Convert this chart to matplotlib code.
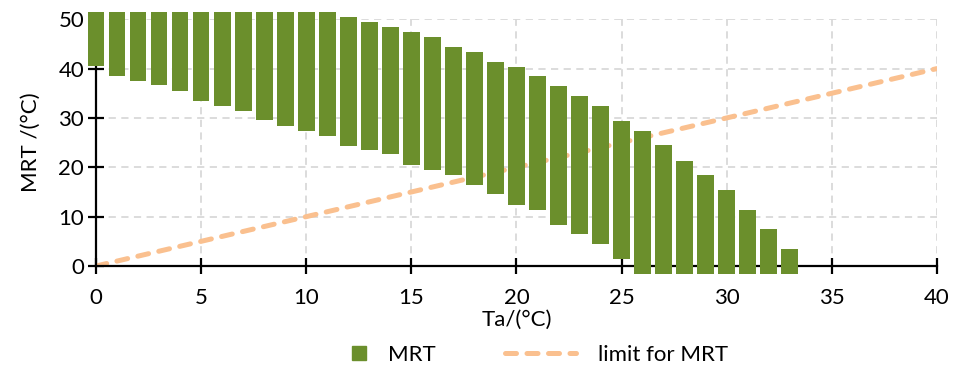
import numpy as np
import matplotlib.pyplot as plt
from matplotlib.lines import Line2D
from matplotlib.patches import Patch, Rectangle
from matplotlib.legend_handler import HandlerPatch

plt.rcParams['font.family'] = ['Lato', 'DejaVu Sans']

# Air temperature steps and the MRT range (lower / upper bound) for each
ta = list(range(0, 34))
mrt_low = [40.5, 38.5, 37.4, 36.6, 35.5, 33.5, 32.4, 31.5, 29.5, 28.4,
           27.4, 26.4, 24.4, 23.6, 22.6, 20.5, 19.5, 18.5, 16.5, 14.5,
           12.4, 11.4, 8.4, 6.4, 4.5, 1.5, -1.6, -1.6, -1.6, -1.6,
           -1.6, -1.6, -1.6, -1.6]
mrt_high = [51.5, 51.5, 51.5, 51.5, 51.5, 51.5, 51.5, 51.5, 51.5, 51.5,
            51.5, 51.5, 50.5, 49.5, 48.4, 47.4, 46.4, 44.4, 43.4, 41.4,
            40.3, 38.5, 36.5, 34.5, 32.4, 29.4, 27.4, 24.5, 21.3, 18.4,
            15.4, 11.4, 7.5, 3.4]

# Limit line MRT = Ta
limit_x = [0, 40]
limit_y = [0, 40]

bar_color = '#6B8F2C'
line_color = '#FAC08F'
dash_style = dict(color=line_color, linewidth=3.6, dashes=(2.2, 2.1),
                  dash_capstyle='round')
FS = 16

fig = plt.figure(figsize=(9.55, 3.7), dpi=100)
ax = fig.add_axes([0.1005, 0.281, 0.8805, 0.667])

ax.plot(limit_x, limit_y, zorder=2, **dash_style)

heights = np.array(mrt_high) - np.array(mrt_low)
bars = ax.bar(ta, heights, bottom=mrt_low, width=0.8, color=bar_color,
              zorder=4)
for b in bars:
    b.set_clip_on(False)

ax.set_xlim(0, 40)
ax.set_ylim(0, 50)
ax.set_xticks(range(0, 41, 5))
ax.set_yticks(range(0, 51, 10))

ax.grid(True, color='#D9D9D9', linestyle=(0, (4, 3)), linewidth=1.3)
ax.set_axisbelow(True)

for s in ['top', 'right']:
    ax.spines[s].set_visible(False)
for s in ['left', 'bottom']:
    ax.spines[s].set_linewidth(1.6)
    ax.spines[s].set_zorder(3)

ax.tick_params(axis='both', direction='inout', length=11, width=1.6,
               labelsize=FS, colors='black')
ax.tick_params(axis='x', pad=10)
ax.tick_params(axis='y', pad=3)

ax.set_xlabel('Ta/(°C)', fontsize=FS, labelpad=2)
ax.set_ylabel('MRT /(°C)', fontsize=FS, labelpad=13)


def square_handle(legend, orig_handle, xdescent, ydescent, width, height,
                  fontsize):
    # small square pushed to the right end of the handle box
    s = 10
    return Rectangle((width - s - xdescent, (height - s) / 2 - ydescent),
                     s, s)


handles = [Patch(color=bar_color, label='MRT'),
           Line2D([0], [0], label='limit for MRT', **dash_style)]
fig.legend(handles=handles, loc='center left',
           bbox_to_anchor=(284 / 955, 1 - 355 / 370),
           ncol=2, frameon=False, fontsize=FS, handlelength=3.2,
           columnspacing=3.1, handletextpad=1.0, borderpad=0,
           handler_map={Patch: HandlerPatch(patch_func=square_handle)})

fig.savefig('out.png', dpi=100)
